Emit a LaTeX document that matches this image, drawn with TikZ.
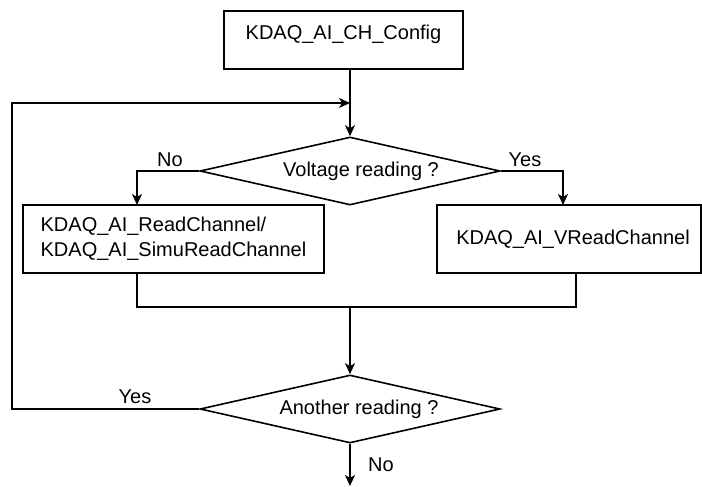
\documentclass[tikz,border=0pt]{standalone}
\usepackage{fontspec}
\setmainfont{Liberation Sans}
\usetikzlibrary{shapes.geometric,arrows.meta}
\begin{document}
\begin{tikzpicture}[x=1pt,y=-1pt,
  font=\fontsize{20}{25}\selectfont,
  every node/.style={inner sep=0pt},
  box/.style={draw, line width=1.6pt, rectangle, align=left},
  dec/.style={draw, line width=1.6pt, diamond, aspect=4.4, minimum width=300pt, minimum height=68pt},
  ln/.style={line width=1.6pt},
  arr/.style={line width=1.6pt, -{Stealth[length=11pt,width=10pt,inset=3pt]}},
  lbl/.style={anchor=center}]
\useasboundingbox (0,0) rectangle (702,487);
% nodes
\node[box, minimum width=239pt, minimum height=58pt, text depth=14.6pt] (cfg) at (343.5,40) {KDAQ\_AI\_CH\_Config};
\node[dec] (d1) at (350,171) {\hspace{22pt}Voltage reading ?};
\node[box, minimum width=301pt, minimum height=68pt] (lb) at (173.5,239) {KDAQ\_AI\_ReadChannel/\\KDAQ\_AI\_SimuReadChannel};
\node[box, minimum width=264pt, minimum height=68pt] (rb) at (569,239) {\hspace{8pt}KDAQ\_AI\_VReadChannel};
\node[dec] (d2) at (350,409) {\hspace{18pt}Another reading ?};
% coordinates
\coordinate (lpt) at (12,103);
\coordinate (mrg) at (350,103);
\coordinate (lbin) at (137,205);
\coordinate (rbin) at (563,205);
\coordinate (lbout) at (137,273);
\coordinate (rbout) at (576,273);
\coordinate (mjl) at (137,307);
\coordinate (mjr) at (576,307);
\coordinate (mj) at (350,307);
\coordinate (ex) at (350,486);
% connectors
\draw[arr] (cfg.south -| d1.north) -- (d1.north);
\draw[arr, line width=1.3pt] (d2.west) -| (lpt) -- (mrg);
\draw[arr] (d1.west) -| (lbin);
\draw[arr] (d1.east) -| (rbin);
\draw[ln] (lbout) -- (mjl) -- (mjr) -- (rbout);
\draw[arr] (mj) -- (d2.north);
\draw[arr] (d2.south) -- (ex);
% labels
\node[lbl] (lno) at (170,160) {No};
\node[lbl] (lyes) at (525,160) {Yes};
\node[lbl] (byes) at (135,397) {Yes};
\node[lbl] (bno) at (381,465) {No};
\end{tikzpicture}
\end{document}
